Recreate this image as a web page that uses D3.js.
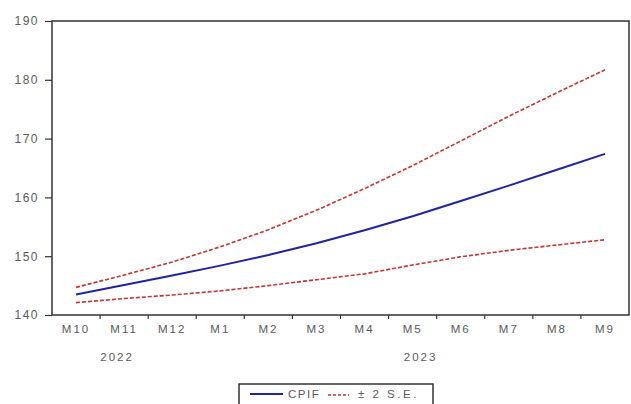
<!DOCTYPE html>
<html>
<head>
<meta charset="utf-8">
<script src="https://cdn.jsdelivr.net/npm/d3@7"></script>
<style>
  body { margin: 0; background: #fff; }
  svg text { font-family: "Liberation Sans", Arial, sans-serif; fill: #5a5a5a; }
</style>
</head>
<body>
<div id="chart"></div>
<script>
// forecast months, Oct 2022 .. Sep 2023
var months = ["M10", "M11", "M12", "M1", "M2", "M3", "M4", "M5", "M6", "M7", "M8", "M9"]
var years = [
    {label: "2022", anchor: "M11"},
    {label: "2023", anchor: "M5"}
]
var cpif  = [143.5, 145.1, 146.7, 148.4, 150.2, 152.2, 154.4, 156.8, 159.4, 162.0, 164.7, 167.4]
var upper = [144.7, 146.8, 149.0, 151.6, 154.5, 157.8, 161.5, 165.4, 169.6, 173.8, 177.8, 181.7]
var lower = [142.1, 142.8, 143.4, 144.1, 145.0, 146.0, 147.0, 148.5, 149.9, 151.0, 151.9, 152.8]
var yTicks = [140, 150, 160, 170, 180, 190]

var W = 631, H = 404
var plotL = 52, plotR = 629, plotT = 21, plotB = 315

var svg = d3.select("#chart").append("svg")
    .attr("width", W)
    .attr("height", H)

var x = d3.scaleBand().domain(months).range([plotL, plotR]).padding(0)
var y = d3.scaleLinear().domain([140, 190]).range([plotB, plotT])

var cx = function(d, i) { return x(months[i]) + x.bandwidth() / 2 }

// frame
svg.append("rect")
    .attr("x", plotL).attr("y", plotT)
    .attr("width", plotR - plotL).attr("height", plotB - plotT)
    .attr("fill", "none")
    .attr("stroke", "#333")
    .attr("stroke-width", 1.5)

// y axis
var yAxis = svg.append("g")
    .attr("transform", "translate(" + plotL + ",0)")
    .call(d3.axisLeft(y).tickValues(yTicks).tickSize(7).tickPadding(6))
yAxis.select(".domain").remove()
yAxis.selectAll("line").attr("stroke", "#333").attr("stroke-width", 1.2)
yAxis.selectAll("text")
    .attr("fill", "#5a5a5a")
    .style("font-size", "12px")
    .style("letter-spacing", "1.5px")

// x axis: labels centred in bands, ticks on band edges
var xAxis = svg.append("g")
    .attr("transform", "translate(0," + plotB + ")")
    .call(d3.axisBottom(x).tickSize(0).tickPadding(12))
xAxis.select(".domain").remove()
xAxis.selectAll("text")
    .attr("fill", "#5a5a5a")
    .attr("dy", "0.5em")
    .style("font-size", "11.5px")
    .style("letter-spacing", "2px")

var edges = months.map(function(m) { return x(m) }).concat([x(months[months.length - 1]) + x.bandwidth()])
svg.append("g").selectAll("line")
    .data(edges.slice(1, -1))
    .enter()
    .append("line")
    .attr("x1", function(d) { return d }).attr("x2", function(d) { return d })
    .attr("y1", plotB).attr("y2", plotB + 4)
    .attr("stroke", "#333").attr("stroke-width", 1.2)

svg.append("g").selectAll("text")
    .data(years)
    .enter()
    .append("text")
    .attr("x", function(d) { return x(d.anchor) + x.bandwidth() / 2 + (d.label === "2022" ? -7 : 8) })
    .attr("y", 361)
    .attr("text-anchor", "middle")
    .style("font-size", "11.5px")
    .style("letter-spacing", "2px")
    .text(function(d) { return d.label })

// series
var line = d3.line().x(cx).y(function(d) { return y(d) })

svg.append("path").datum(upper)
    .attr("d", line).attr("fill", "none")
    .attr("stroke", "#c83232").attr("stroke-width", 1.6)
    .attr("stroke-dasharray", "4,2")
svg.append("path").datum(lower)
    .attr("d", line).attr("fill", "none")
    .attr("stroke", "#c83232").attr("stroke-width", 1.6)
    .attr("stroke-dasharray", "4,2")
svg.append("path").datum(cpif)
    .attr("d", line).attr("fill", "none")
    .attr("stroke", "#2323a0").attr("stroke-width", 2)

// legend
var lg = svg.append("g")
lg.append("rect")
    .attr("x", 239).attr("y", 384).attr("width", 194).attr("height", 30)
    .attr("fill", "#fff").attr("stroke", "#333").attr("stroke-width", 1.5)
lg.append("line")
    .attr("x1", 250).attr("x2", 283).attr("y1", 394).attr("y2", 394)
    .attr("stroke", "#2323a0").attr("stroke-width", 2)
lg.append("text")
    .attr("x", 288).attr("y", 398)
    .style("font-size", "11.5px").style("letter-spacing", "1.5px")
    .text("CPIF")
lg.append("line")
    .attr("x1", 328).attr("x2", 349).attr("y1", 395).attr("y2", 395)
    .attr("stroke", "#c83232").attr("stroke-width", 1.6)
    .attr("stroke-dasharray", "3,2")
lg.append("text")
    .attr("x", 358).attr("y", 398)
    .style("font-size", "11.5px").style("letter-spacing", "2.5px")
    .text("± 2 S.E.")
</script>
</body>
</html>
